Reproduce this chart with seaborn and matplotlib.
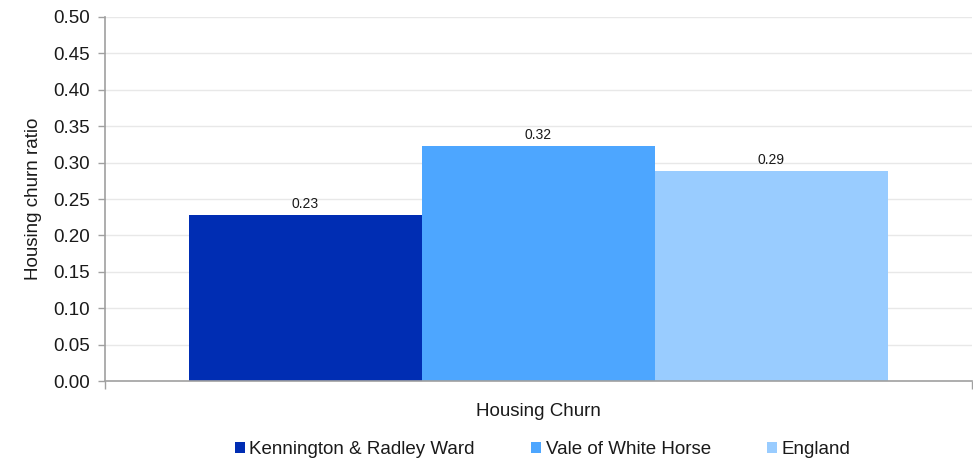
import matplotlib
matplotlib.use("Agg")
import matplotlib.pyplot as plt
import seaborn as sns
import pandas as pd

categories = ["Housing Churn"]
series_names = ["Kennington & Radley Ward", "Vale of White Horse", "England"]
values = [0.228, 0.323, 0.288]
colors = ["#002db3", "#4da6ff", "#99ccff"]
y_ticks = [0.0, 0.05, 0.10, 0.15, 0.20, 0.25, 0.30, 0.35, 0.40, 0.45, 0.50]

df = pd.DataFrame({"category": categories * len(series_names),
                   "series": series_names,
                   "value": values})

sns.set_style("white")
plt.rcParams["font.family"] = ["Liberation Sans", "DejaVu Sans"]

FS = 13.5
TXT = "#1a1a1a"

fig = plt.figure(figsize=(9.73, 4.58), dpi=100)
ax = fig.add_axes([0.1079, 0.168, 0.891, 0.795])

sns.barplot(data=df, x="category", y="value", hue="series", hue_order=series_names,
            palette=colors, width=0.806, gap=0, saturation=1, linewidth=0,
            ax=ax, legend=True)

for cont in ax.containers:
    ax.bar_label(cont, fmt="%.2f", padding=3, fontsize=10, color=TXT)

ax.set_ylim(0, 0.5)
ax.set_xlim(-0.5, 0.5)
ax.set_yticks(y_ticks)
ax.set_yticklabels([f"{t:.2f}" for t in y_ticks], fontsize=FS, color=TXT)
ax.set_xticks([-0.5, 0.5])
ax.set_xticklabels(["", ""])
ax.tick_params(axis="x", bottom=True, length=6, color="#a0a0a0", width=1)
ax.yaxis.grid(True, color="#e8e8e8", linewidth=1)
ax.xaxis.grid(False)
ax.set_axisbelow(True)
ax.set_ylabel("Housing churn ratio", fontsize=FS, color=TXT, labelpad=8)
ax.set_xlabel("Housing Churn", fontsize=FS, color=TXT, labelpad=6)

for s in ["top", "right"]:
    ax.spines[s].set_visible(False)
for s in ["left", "bottom"]:
    ax.spines[s].set_color("#a0a0a0")
    ax.spines[s].set_linewidth(1.2)
ax.tick_params(axis="y", left=True, length=5, color="#a0a0a0", width=1, pad=6)

leg = ax.legend(loc="center", bbox_to_anchor=(0.505, -0.189), ncol=3, frameon=False,
                fontsize=FS, handlelength=0.53, handleheight=0.53, handletextpad=0.25,
                columnspacing=3.0, borderpad=0)
for t in leg.get_texts():
    t.set_color(TXT)

fig.savefig("out.png", dpi=100)
